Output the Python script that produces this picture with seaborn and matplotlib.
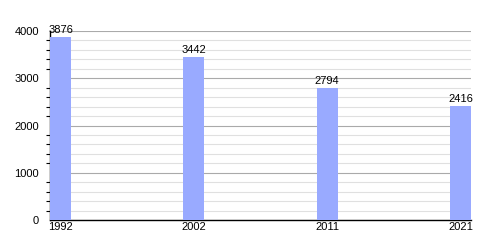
import matplotlib
matplotlib.use("Agg")
import matplotlib.pyplot as plt
import seaborn as sns
import pandas as pd
from matplotlib.ticker import MultipleLocator

years = ["1992", "2002", "2011", "2021"]
population = [3876, 3442, 2794, 2416]

df = pd.DataFrame({"year": years, "population": population})

sns.set_theme(style="white")
plt.rcParams['font.family'] = ['Liberation Sans', 'DejaVu Sans']

fig = plt.figure(figsize=(5, 2.5), dpi=100)
ax = fig.add_axes([0.1, 0.12, 0.842, 0.756])

bw = 0.158
sns.barplot(data=df, x="year", y="population", color="#99aaff", saturation=1,
            width=bw, ax=ax, zorder=3, linewidth=0, edgecolor="none")

ax.set_ylim(0, 4000)
ax.set_xlim(-bw / 2, 3 + bw / 2)
ax.yaxis.set_major_locator(MultipleLocator(1000))
ax.yaxis.set_minor_locator(MultipleLocator(200))
ax.grid(which="major", axis="y", color="#aaaaaa", linewidth=0.8, zorder=1)
ax.grid(which="minor", axis="y", color="#e0e0e0", linewidth=0.8, zorder=1)
ax.set_axisbelow(True)

for s in ["top", "right"]:
    ax.spines[s].set_visible(False)
for s in ["left", "bottom"]:
    ax.spines[s].set_color("black")
    ax.spines[s].set_linewidth(1.0)

ax.tick_params(axis="y", which="both", left=True, direction="out", length=3,
               width=0.8, color="black", labelsize=8, pad=8, labelcolor="black")
ax.tick_params(axis="y", which="major", length=0)
ax.tick_params(axis="x", bottom=False, length=0, labelsize=8, pad=1.5,
               labelcolor="black")
ax.set_xlabel("")
ax.set_ylabel("")

for i, v in enumerate(population):
    ax.annotate(str(v), (i, v), xytext=(0, 1.5), textcoords="offset points",
                ha="center", va="bottom", fontsize=8, color="black", zorder=5)

fig.savefig("out.png", dpi=100)
